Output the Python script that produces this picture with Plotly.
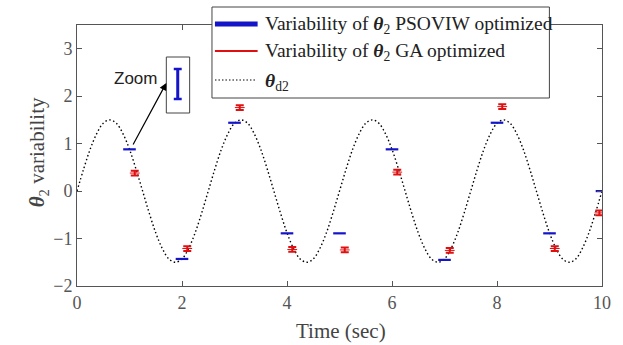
import plotly.graph_objects as go

# ---------------- data ----------------
t_ref = [i * 0.125 for i in range(81)]
theta_d2 = [
    0.00, 0.46, 0.88, 1.21, 1.43, 1.50, 1.43, 1.21, 0.88, 0.46,
    0.00, -0.46, -0.88, -1.21, -1.43, -1.50, -1.43, -1.21, -0.88, -0.46,
    0.00, 0.46, 0.88, 1.21, 1.43, 1.50, 1.43, 1.21, 0.88, 0.46,
    0.00, -0.46, -0.88, -1.21, -1.43, -1.50, -1.43, -1.21, -0.88, -0.46,
    0.00, 0.46, 0.88, 1.21, 1.43, 1.50, 1.43, 1.21, 0.88, 0.46,
    0.00, -0.46, -0.88, -1.21, -1.43, -1.50, -1.43, -1.21, -0.88, -0.46,
    0.00, 0.46, 0.88, 1.21, 1.43, 1.50, 1.43, 1.21, 0.88, 0.46,
    0.00, -0.46, -0.88, -1.21, -1.43, -1.50, -1.43, -1.21, -0.88, -0.46,
    0.00,
]

t_pso = [1, 2, 3, 4, 5, 6, 7, 8, 9, 10]
theta_pso = [0.88, -1.43, 1.44, -0.89, -0.89, 0.88, -1.45, 1.44, -0.89, 0.00]

t_ga = [1.1, 2.1, 3.1, 4.1, 5.1, 6.1, 7.1, 8.1, 9.1, 9.95]
theta_ga = [0.38, -1.21, 1.76, -1.23, -1.24, 0.40, -1.25, 1.78, -1.21, -0.46]
err_ga = [0.05, 0.05, 0.05, 0.05, 0.05, 0.05, 0.05, 0.05, 0.05, 0.05]

x_ticks = [0, 2, 4, 6, 8, 10]
y_ticks = [-2, -1, 0, 1, 2, 3]

legend_labels = [
    "Variability of <b><i>θ</i></b><sub>2</sub> PSOVIW optimized",
    "Variability of <b><i>θ</i></b><sub>2</sub> GA optimized",
    "<b><i>θ</i></b><sub>d2</sub>",
]

BLUE = "#1414c8"
RED = "#e01010"

# ---------------- layout geometry ----------------
W, H = 623, 345
L, R, T, B = 77, 606, 25, 286


def px(x):
    return (x - L) / (R - L)


def py(y):
    return (B - y) / (B - T)


fig = go.Figure()

fig.add_trace(go.Scatter(
    x=t_ref, y=theta_d2, mode="lines", line_shape="spline",
    line=dict(color="black", width=1.4, dash="1.5px,2.5px"),
    showlegend=False, hoverinfo="skip"))

fig.add_trace(go.Scatter(
    x=t_pso, y=theta_pso, mode="markers",
    marker=dict(symbol="line-ew", size=9, color=BLUE,
                line=dict(color=BLUE, width=2.2)),
    showlegend=False))

fig.add_trace(go.Scatter(
    x=t_ga, y=theta_ga, mode="markers",
    marker=dict(symbol="line-ew", size=7, color=RED,
                line=dict(color=RED, width=1)),
    error_y=dict(type="data", array=err_ga, visible=True,
                 color=RED, thickness=2, width=4),
    showlegend=False))

axis_common = dict(
    showgrid=False, zeroline=False, showline=True, linecolor="#555555",
    linewidth=1, mirror="ticks", ticks="inside", ticklen=5,
    tickcolor="#555555",
    tickfont=dict(family="Liberation Serif", size=18, color="#555555"),
)

fig.update_xaxes(range=[0, 10], tickvals=x_ticks, **axis_common)
fig.update_yaxes(range=[-2, 3.5], tickvals=y_ticks, **axis_common)

shapes = []
annotations = []

# legend box
shapes.append(dict(type="rect", xref="paper", yref="paper",
                   x0=px(213), x1=px(553), y0=py(98), y1=py(7),
                   fillcolor="white", line=dict(color="#444444", width=1),
                   layer="above"))
shapes.append(dict(type="line", xref="paper", yref="paper",
                   x0=px(216), x1=px(259), y0=py(24), y1=py(24),
                   line=dict(color=BLUE, width=5), layer="above"))
shapes.append(dict(type="line", xref="paper", yref="paper",
                   x0=px(216), x1=px(259), y0=py(51), y1=py(51),
                   line=dict(color=RED, width=2), layer="above"))
shapes.append(dict(type="line", xref="paper", yref="paper",
                   x0=px(216), x1=px(257), y0=py(80), y1=py(80),
                   line=dict(color="black", width=1.2, dash="1.5px,2px"),
                   layer="above"))
for lbl, yc in zip(legend_labels, [25, 52, 82]):
    annotations.append(dict(
        text=lbl, xref="paper", yref="paper", x=px(264), y=py(yc),
        xanchor="left", yanchor="middle", showarrow=False,
        font=dict(family="Liberation Serif", size=19.5, color="#222222")))

# zoom inset
shapes.append(dict(type="rect", xref="paper", yref="paper",
                   x0=px(167), x1=px(190.5), y0=py(113), y1=py(57),
                   fillcolor="white", line=dict(color="#444444", width=1),
                   layer="above"))
shapes.append(dict(type="line", xref="paper", yref="paper",
                   x0=px(178.5), x1=px(178.5), y0=py(99), y1=py(69),
                   line=dict(color=BLUE, width=3), layer="above"))
for yy in (69, 99):
    shapes.append(dict(type="line", xref="paper", yref="paper",
                       x0=px(174.5), x1=px(182.5), y0=py(yy), y1=py(yy),
                       line=dict(color=BLUE, width=2.5), layer="above"))

annotations.append(dict(
    text="Zoom", xref="paper", yref="paper", x=px(136), y=py(78),
    xanchor="center", yanchor="middle", showarrow=False,
    font=dict(family="Liberation Sans", size=17, color="#222222")))
annotations.append(dict(
    text="", xref="paper", yref="paper", x=px(167), y=py(83),
    ax=133 - 167, ay=146 - 83, showarrow=True, arrowhead=2,
    arrowsize=1.2, arrowwidth=1.2, arrowcolor="black"))

# axis titles
annotations.append(dict(
    text="Time (sec)", xref="paper", yref="paper", x=px(343), y=py(331),
    xanchor="center", yanchor="middle", showarrow=False,
    font=dict(family="Liberation Serif", size=21, color="#444444")))
annotations.append(dict(
    text="<b><i>θ</i></b><sub>2</sub> variability", xref="paper",
    yref="paper", x=px(38), y=py(152), textangle=-90,
    xanchor="center", yanchor="middle", showarrow=False,
    font=dict(family="Liberation Serif", size=21, color="#444444")))

fig.update_layout(
    width=W, height=H,
    margin=dict(l=L, r=W - R, t=T, b=H - B),
    paper_bgcolor="white", plot_bgcolor="white",
    shapes=shapes, annotations=annotations,
    showlegend=False,
)

fig.write_html("out.html")
